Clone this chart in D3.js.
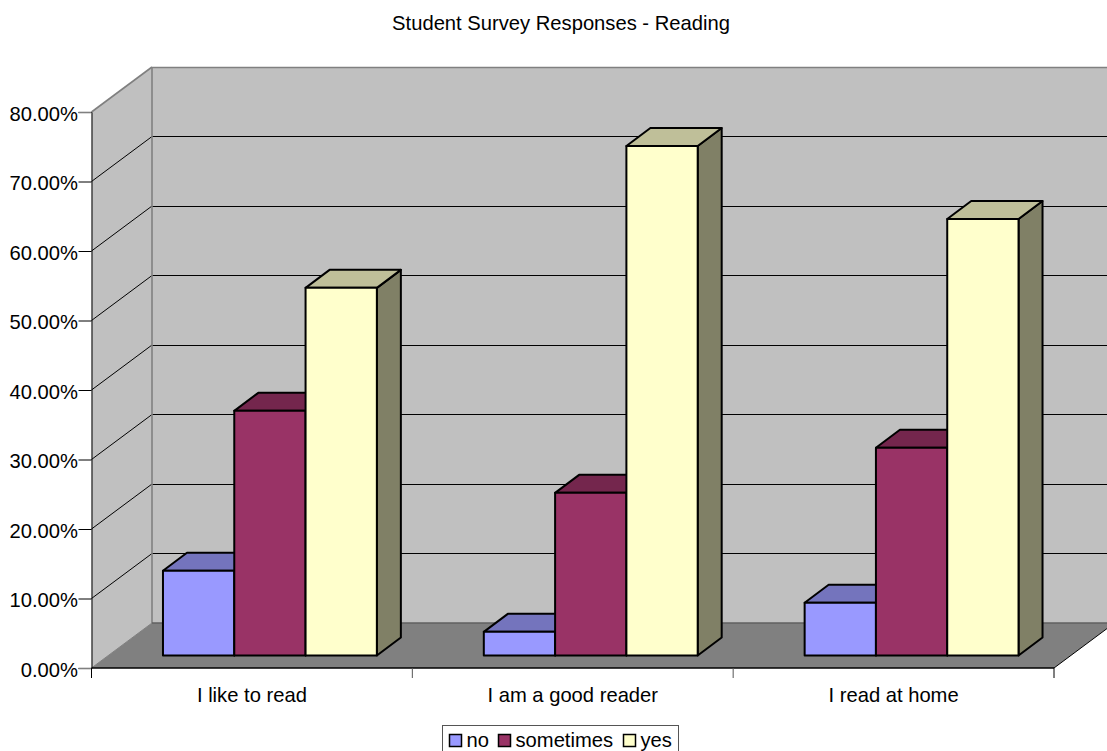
<!DOCTYPE html>
<html>
<head>
<meta charset="utf-8">
<script src="https://cdn.jsdelivr.net/npm/d3@7/dist/d3.min.js"></script>
<style>
html, body { margin: 0; padding: 0; background: #fff; overflow: hidden; }
text { font-family: "Liberation Sans", Arial, sans-serif; fill: #000; }
</style>
</head>
<body>
<script>
// Survey results
const categories = ["I like to read", "I am a good reader", "I read at home"];
const seriesNames = ["no", "sometimes", "yes"];
const noValues = [12.2, 3.4, 7.6];
const sometimesValues = [35.2, 23.4, 29.9];
const yesValues = [52.9, 73.3, 62.8];
const yTicks = [0, 10, 20, 30, 40, 50, 60, 70, 80];
const seriesValues = [noValues, sometimesValues, yesValues];

// Face colours per series: front, top, side
const faces = [
  { front: "#9999ff", top: "#7474bd", side: "#7474bd" },
  { front: "#993366", top: "#74264d", side: "#74264d" },
  { front: "#ffffcc", top: "#bfbf99", side: "#808066" }
];

const width = 1107, height = 751;
const fontSize = 20.2;
const svg = d3.select("body").append("svg")
  .attr("width", width).attr("height", height)
  .style("display", "block");

// Front plane of the oblique box
const y = d3.scaleLinear().domain([0, 80]).range([668, 112]);
const x0 = d3.scaleBand().domain(categories).range([91.5, 1054]);
const depthX = 60.5, depthY = -45;          // full box depth
const barDepthX = 24, barDepthY = -18;      // depth of a single bar
const barInsetX = 18, barInsetY = -12.5;    // bar front plane behind the box front
const x1 = d3.scaleBand().domain(seriesNames)
  .range([x0.bandwidth() / 6, x0.bandwidth() * 5 / 6]);

const poly = pts => pts.map(p => p.join(",")).join(" ");
const [left, right] = x0.range();
const y0 = y(0), yTop = y(80);

// Walls and floor
svg.append("polygon").attr("fill", "#c0c0c0")
  .attr("points", poly([[left, y0], [left, yTop], [left + depthX, yTop + depthY], [left + depthX, y0 + depthY]]));
svg.append("rect").attr("fill", "#c0c0c0")
  .attr("x", left + depthX).attr("y", yTop + depthY)
  .attr("width", right - left).attr("height", y0 - yTop);
svg.append("polygon").attr("fill", "#808080")
  .attr("points", poly([[left, y0], [right, y0], [right + depthX, y0 + depthY], [left + depthX, y0 + depthY]]));

// Gridlines across side wall and back wall
yTicks.slice(1).forEach(t => {
  const isTop = t === 80;
  const stroke = isTop ? "#808080" : "#000";
  const sw = isTop ? 1.6 : 1;
  svg.append("line").attr("stroke", stroke).attr("stroke-width", sw)
    .attr("x1", left).attr("y1", y(t))
    .attr("x2", left + depthX).attr("y2", y(t) + depthY);
  const backY = Math.floor(y(t) + depthY) + 0.5;
  svg.append("line").attr("stroke", stroke).attr("stroke-width", sw)
    .attr("x1", left + depthX).attr("y1", backY)
    .attr("x2", right + depthX).attr("y2", backY);
});

// Wall edges
svg.append("line").attr("stroke", "#808080").attr("stroke-width", 1.6)
  .attr("x1", left + depthX).attr("x2", left + depthX)
  .attr("y1", yTop + depthY).attr("y2", y0 + depthY);
svg.append("line").attr("stroke", "#606060").attr("stroke-width", 1.6)
  .attr("x1", left + depthX).attr("x2", right + depthX)
  .attr("y1", y0 + depthY).attr("y2", y0 + depthY);
svg.append("line").attr("stroke", "#808080").attr("stroke-width", 1)
  .attr("x1", left).attr("x2", left + depthX)
  .attr("y1", y0).attr("y2", y0 + depthY);
svg.append("line").attr("stroke", "#000").attr("stroke-width", 1)
  .attr("x1", right).attr("x2", right + depthX)
  .attr("y1", y0).attr("y2", y0 + depthY);

// Bars, back-to-front is simply left-to-right in this projection
const base = y0 + barInsetY;
categories.forEach((cat, c) => {
  seriesNames.forEach((name, s) => {
    const v = seriesValues[s][c];
    const xL = x0(cat) + x1(name) + barInsetX;
    const xR = xL + x1.bandwidth();
    const yT = base - (y0 - y(v));
    const g = svg.append("g").attr("stroke", "#000").attr("stroke-width", 2).attr("stroke-linejoin", "round");
    g.append("polygon").attr("fill", faces[s].side)
      .attr("points", poly([[xR, yT], [xR + barDepthX, yT + barDepthY], [xR + barDepthX, base + barDepthY], [xR, base]]));
    g.append("polygon").attr("fill", faces[s].top)
      .attr("points", poly([[xL, yT], [xL + barDepthX, yT + barDepthY], [xR + barDepthX, yT + barDepthY], [xR, yT]]));
    g.append("rect").attr("fill", faces[s].front)
      .attr("x", xL).attr("y", yT).attr("width", xR - xL).attr("height", base - yT);
  });
});

// Y axis: the axis line runs up the front of the side wall
const yAxis = d3.axisLeft(y).tickValues(yTicks).tickSize(13).tickPadding(0)
  .tickFormat(d => d3.format(".2f")(d) + "%");
const yG = svg.append("g").attr("transform", `translate(${left},0)`).call(yAxis);
yG.select(".domain").attr("stroke", "#000");
yG.selectAll(".tick line")
  .attr("stroke", d => (d === 0 || d === 80) ? "#808080" : "#000")
  .attr("stroke-width", d => (d === 0 || d === 80) ? 1.6 : 1);
yG.selectAll("text").attr("font-size", fontSize).attr("font-family", "Liberation Sans")
  .attr("x", -13.5).attr("dy", "0.4em").attr("fill", "#000");

// X axis
svg.append("line").attr("stroke", "#000").attr("x1", left).attr("x2", right).attr("y1", y0).attr("y2", y0).attr("stroke-width", 1.6);
d3.range(categories.length + 1).forEach(i => {
  const tx = left + i * x0.step();
  svg.append("line").attr("stroke", i === 0 || i === 3 ? "#000" : "#555").attr("x1", tx).attr("x2", tx).attr("y1", y0).attr("y2", y0 + 10);
});
svg.selectAll(".cat").data(categories).join("text").attr("class", "cat")
  .attr("x", d => x0(d) + x0.bandwidth() / 2).attr("y", 702)
  .attr("text-anchor", "middle").attr("font-size", fontSize).text(d => d);

// Title
svg.append("text").attr("x", 561).attr("y", 30).attr("text-anchor", "middle")
  .attr("font-size", fontSize).text("Student Survey Responses - Reading");

// Legend
const legend = svg.append("g");
legend.append("rect").attr("x", 442.5).attr("y", 725.5).attr("width", 236).attr("height", 30)
  .attr("fill", "#fff").attr("stroke", "#555");
const legendItems = [{ sx: 449, tx: 466.5 }, { sx: 498, tx: 515.5 }, { sx: 623, tx: 640.5 }];
seriesNames.forEach((name, i) => {
  legend.append("rect").attr("x", legendItems[i].sx + .5).attr("y", 734.5).attr("width", 12).attr("height", 12)
    .attr("fill", faces[i].front).attr("stroke", "#000").attr("stroke-width", 1.5);
  legend.append("text").attr("x", legendItems[i].tx).attr("y", 747).attr("font-size", fontSize).text(name);
});
</script>
</body>
</html>
